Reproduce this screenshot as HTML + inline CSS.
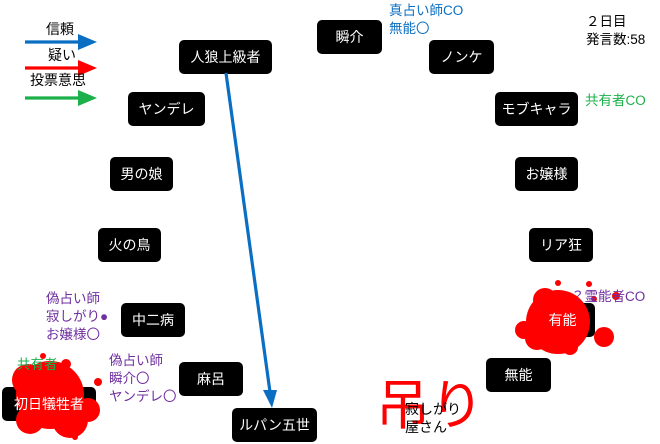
<!DOCTYPE html>
<html><head><meta charset="utf-8"><style>
body{margin:0;width:660px;height:444px;background:#fff;position:relative;overflow:hidden;font-family:"Liberation Sans","Noto Sans CJK JP",sans-serif}
.n{position:absolute;background:#000;color:#fff;border-radius:5px;font-size:14px;display:flex;align-items:center;justify-content:center;height:34px}
.t{position:absolute;font-size:13.5px;line-height:18px;white-space:nowrap}
.p{color:#7030a0}.g{color:#1bb04a}.b{color:#0a6fc2}
svg{position:absolute;left:0;top:0}
</style></head><body>
<div class="n" style="left:317px;top:20px;width:65px">瞬介</div>
<div class="n" style="left:179px;top:40px;width:93px">人狼上級者</div>
<div class="n" style="left:429px;top:40px;width:65px">ノンケ</div>
<div class="n" style="left:128px;top:92px;width:77px">ヤンデレ</div>
<div class="n" style="left:495px;top:92px;width:83px">モブキャラ</div>
<div class="n" style="left:110px;top:157px;width:63px">男の娘</div>
<div class="n" style="left:515px;top:157px;width:63px">お嬢様</div>
<div class="n" style="left:98px;top:228px;width:63px">火の鳥</div>
<div class="n" style="left:529px;top:228px;width:64px">リア狂</div>
<div class="n" style="left:121px;top:303px;width:64px">中二病</div>
<div class="n" style="left:530px;top:303px;width:65px">有能</div>
<div class="n" style="left:179px;top:362px;width:64px">麻呂</div>
<div class="n" style="left:486px;top:358px;width:65px">無能</div>
<div class="n" style="left:2px;top:387px;width:94px">初日犠牲者</div>
<div class="n" style="left:232px;top:408px;width:85px">ルパン五世</div>
<svg width="660" height="444">
<g stroke-width="3.2">
<line x1="25" y1="42" x2="80" y2="42" stroke="#0a6fc2"/><polygon points="78,34 97,42 78,50" fill="#0a6fc2"/>
<line x1="25" y1="68" x2="80" y2="68" stroke="#f00"/><polygon points="78,60 97,68 78,76" fill="#f00"/>
<line x1="25" y1="98" x2="80" y2="98" stroke="#1bb04a"/><polygon points="78,90 97,98 78,106" fill="#1bb04a"/>
<line x1="226" y1="73" x2="270" y2="392" stroke="#0a6fc2"/><polygon points="263,390 277,390 272,408" fill="#0a6fc2"/>
</g>
<g fill="#f00">
<circle cx="50" cy="395" r="34"/><circle cx="28" cy="380" r="16"/><circle cx="70" cy="420" r="18"/><circle cx="88" cy="410" r="12"/><circle cx="30" cy="420" r="14"/>
<circle cx="98" cy="382" r="4"/><circle cx="70" cy="378" r="4"/><circle cx="43" cy="356" r="3"/><circle cx="75" cy="437" r="3"/><circle cx="66" cy="364" r="5"/>
<circle cx="558" cy="322" r="32"/><circle cx="545" cy="300" r="12"/><circle cx="537" cy="338" r="12"/><circle cx="604" cy="337" r="10"/><circle cx="616" cy="296" r="4"/><circle cx="558" cy="283" r="3"/><circle cx="589" cy="284" r="3"/><circle cx="524" cy="330" r="9"/><circle cx="594" cy="299" r="3"/><circle cx="570" cy="347" r="8"/>
</g>
</svg>
<div class="n" style="left:2px;top:387px;width:94px;background:transparent">初日犠牲者</div>
<div class="n" style="left:530px;top:303px;width:65px;background:transparent">有能</div>
<div class="t" style="left:46px;top:20px;font-size:14px">信頼</div>
<div class="t" style="left:48px;top:46px;font-size:14px">疑い</div>
<div class="t" style="left:30px;top:71px;font-size:14px">投票意思</div>
<div class="t b" style="left:389px;top:2px">真占い師CO<br>無能〇</div>
<div class="t" style="left:586px;top:13px;color:#000">２日目<br>発言数:58</div>
<div class="t g" style="left:585px;top:92px">共有者CO</div>
<div class="t p" style="left:571px;top:288px">？霊能者CO</div>
<div class="t p" style="left:46px;top:290px">偽占い師<br>寂しがり●<br>お嬢様〇</div>
<div class="t g" style="left:17px;top:356px">共有者</div>
<div class="t p" style="left:109px;top:352px">偽占い師<br>瞬介〇<br>ヤンデレ〇</div>
<div class="t" style="left:376px;top:374px;color:#f00;font-size:54px;line-height:64px">吊り</div>
<div class="t" style="left:405px;top:400px;color:#000;font-size:14px;line-height:18px">寂しがり<br>屋さん</div>
</body></html>
